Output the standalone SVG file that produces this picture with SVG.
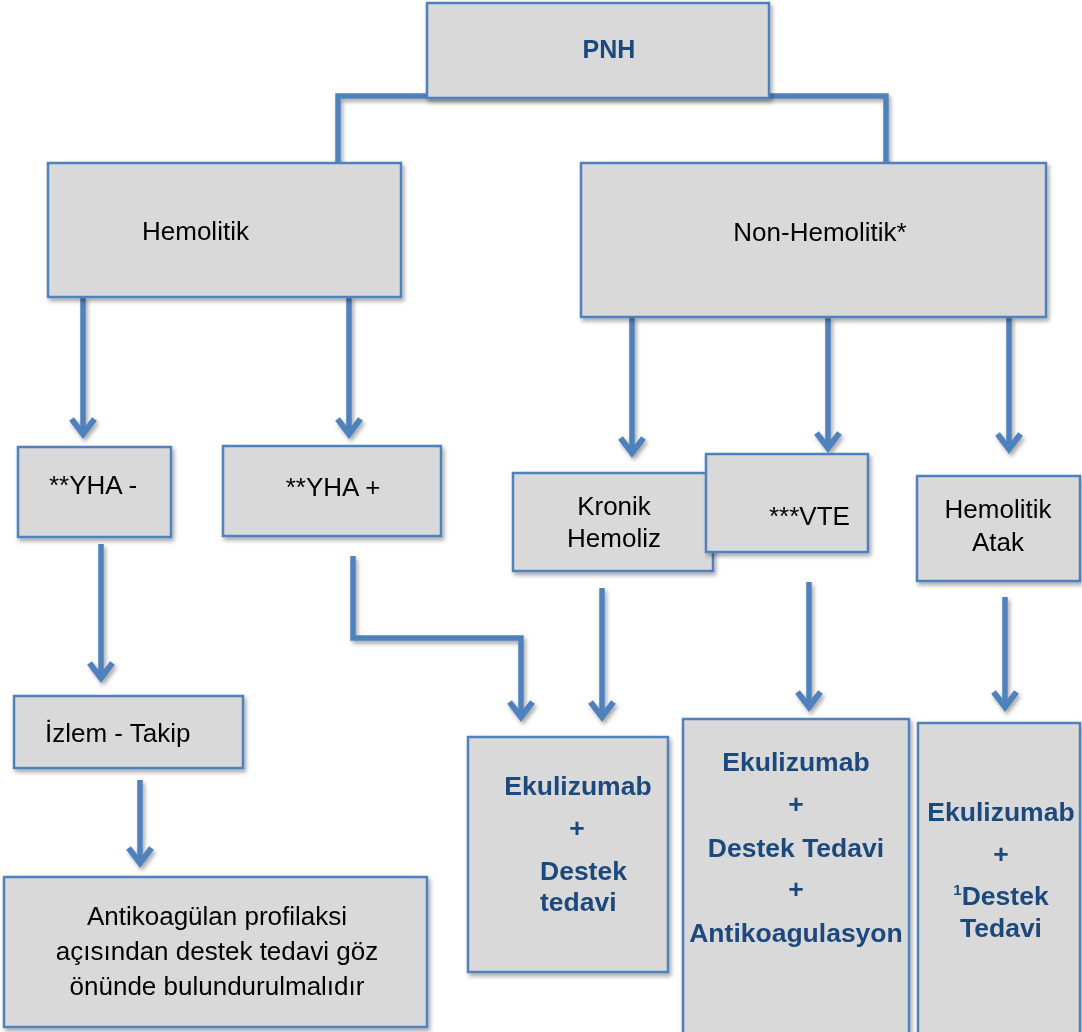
<svg xmlns="http://www.w3.org/2000/svg" width="1082" height="1032" viewBox="0 0 1082 1032">
<style>
.box{fill:#D9D9D9;stroke:#4F81BD;stroke-width:2.5}
.con{fill:none;stroke:#4F81BD;stroke-width:5.5;stroke-linejoin:miter}
.t{font-family:"Liberation Sans",Arial,sans-serif;font-size:26px;fill:#000}
.b{font-family:"Liberation Sans",Arial,sans-serif;font-size:26.5px;font-weight:bold;fill:#1F497D}
.p{font-size:25px}
.m{text-anchor:middle}
</style>
<defs>
<filter id="sh" x="-10%" y="-10%" width="130%" height="130%">
<feDropShadow dx="2" dy="3" stdDeviation="2" flood-color="#000" flood-opacity="0.35"/>
</filter>
<marker id="ah" markerUnits="userSpaceOnUse" viewBox="-24 -16 30 32" markerWidth="30" markerHeight="32" refX="0" refY="0" orient="auto" overflow="visible">
<path d="M-15,-11.5 L0,0 L-15,11.5" fill="none" stroke="#4F81BD" stroke-width="6" stroke-linejoin="miter"/>
</marker>
</defs>
<rect width="1082" height="1032" fill="#fff"/>
<g id="connectors" filter="url(#sh)">
<path class="con" d="M338,163 V96 H886 V163"/>
<path class="con" d="M83,297 V434" marker-end="url(#ah)"/>
<path class="con" d="M349,297 V434" marker-end="url(#ah)"/>
<path class="con" d="M632,317 V453" marker-end="url(#ah)"/>
<path class="con" d="M828,317 V448" marker-end="url(#ah)"/>
<path class="con" d="M1009,317 V449" marker-end="url(#ah)"/>
<path class="con" d="M101,544 V678" marker-end="url(#ah)"/>
<path class="con" d="M140,780 V863" marker-end="url(#ah)"/>
<path class="con" d="M353,556 V638 H521 V717" marker-end="url(#ah)"/>
<path class="con" d="M602,588 V717" marker-end="url(#ah)"/>
<path class="con" d="M809,582 V707" marker-end="url(#ah)"/>
<path class="con" d="M1005,597 V707" marker-end="url(#ah)"/>
</g>
<g id="pnh" filter="url(#sh)">
<rect class="box" x="427" y="3" width="342" height="95"/>
<text class="b p m" x="609" y="58">PNH</text>
</g>
<g id="hemolitik" filter="url(#sh)">
<rect class="box" x="48" y="163" width="353" height="134"/>
<text class="t" x="142" y="240">Hemolitik</text>
</g>
<g id="nonhemolitik" filter="url(#sh)">
<rect class="box" x="581" y="163" width="465" height="154"/>
<text class="t m" x="820" y="241">Non-Hemolitik*</text>
</g>
<g id="yha-neg" filter="url(#sh)">
<rect class="box" x="18" y="447" width="153" height="90"/>
<text class="t m" x="93" y="494">**YHA -</text>
</g>
<g id="yha-pos" filter="url(#sh)">
<rect class="box" x="223" y="446" width="218" height="90"/>
<text class="t m" x="333" y="496">**YHA +</text>
</g>
<g id="kronik" filter="url(#sh)">
<rect class="box" x="513" y="473" width="200" height="98"/>
<text class="t m" x="614" y="515">Kronik</text>
<text class="t m" x="614" y="547">Hemoliz</text>
</g>
<g id="vte" filter="url(#sh)">
<rect class="box" x="706" y="454" width="162" height="98"/>
<text class="t" x="769" y="525">***VTE</text>
</g>
<g id="hematak" filter="url(#sh)">
<rect class="box" x="917" y="476" width="163" height="105"/>
<text class="t m" x="998" y="518">Hemolitik</text>
<text class="t m" x="998" y="551">Atak</text>
</g>
<g id="izlem" filter="url(#sh)">
<rect class="box" x="14" y="696" width="229" height="72"/>
<text class="t" x="45" y="742">İzlem - Takip</text>
</g>
<g id="antikoagulan" filter="url(#sh)">
<rect class="box" x="4" y="877" width="423" height="150"/>
<text class="t m" x="217" y="925">Antikoagülan profilaksi</text>
<text class="t m" x="217" y="960">açısından destek tedavi göz</text>
<text class="t m" x="217" y="995">önünde bulundurulmalıdır</text>
</g>
<g id="ekul1" filter="url(#sh)">
<rect class="box" x="468" y="737" width="200" height="235"/>
<text class="b m" x="578" y="795">Ekulizumab</text>
<text class="b m" x="577" y="837">+</text>
<text class="b" x="540" y="880">Destek</text>
<text class="b" x="540" y="911">tedavi</text>
</g>
<g id="ekul2" filter="url(#sh)">
<rect class="box" x="683" y="719" width="226" height="330"/>
<text class="b m" x="796" y="771">Ekulizumab</text>
<text class="b m" x="796" y="813">+</text>
<text class="b m" x="796" y="857">Destek Tedavi</text>
<text class="b m" x="796" y="898">+</text>
<text class="b m" x="796" y="942">Antikoagulasyon</text>
</g>
<g id="ekul3" filter="url(#sh)">
<rect class="box" x="918" y="723" width="162" height="330"/>
<text class="b m" x="1001" y="821">Ekulizumab</text>
<text class="b m" x="1001" y="863">+</text>
<text class="b m" x="1001" y="905"><tspan font-size="15" dy="-10">1</tspan><tspan dy="10">Destek</tspan></text>
<text class="b m" x="1001" y="937">Tedavi</text>
</g>
</svg>
